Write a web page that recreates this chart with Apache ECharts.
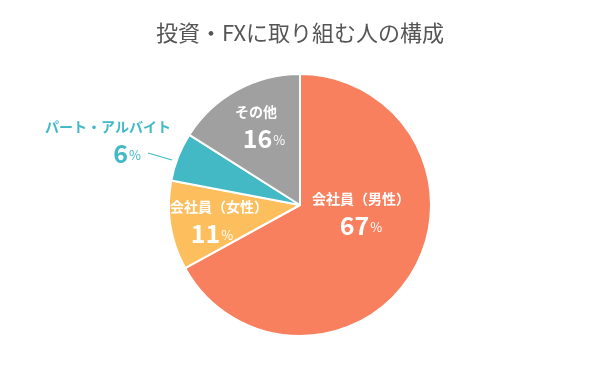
<!DOCTYPE html>
<html>
<head>
<meta charset="utf-8">
<script src="https://cdn.jsdelivr.net/npm/echarts@6/dist/echarts.min.js"></script>
<style>html,body{margin:0;padding:0;background:#fff;}#c{width:600px;height:371px;}</style>
</head>
<body>
<div id="c"></div>
<script>
const titleText = '投資・FXに取り組む人の構成';
const categories = ['会社員（男性）', '会社員（女性）', 'パート・アルバイト', 'その他'];
const values = [67, 11, 6, 16];
const colors = ['#F8805E', '#FDBE5E', '#42B9C5', '#A0A0A0'];
const labelColors = ['#ffffff', '#ffffff', '#42B9C5', '#ffffff'];
const labelCenters = [[361, 214], [219, 222], [108, 142], [256, 127]];
const numberShift = [0, -7, 19, 8];

const chart = echarts.init(document.getElementById('c'), null, {renderer: 'canvas'});
const fontFamily = '"Noto Sans CJK JP", "Noto Sans", sans-serif';
function makeRich(shift) {
  const left = shift > 0 ? shift * 2 : 0;
  const right = shift < 0 ? -shift * 2 : 0;
  return {
    n: {fontFamily: fontFamily, fontSize: 14, fontWeight: 'bold', lineHeight: 22},
    v: {fontFamily: fontFamily, fontSize: 25, fontWeight: 'bold', lineHeight: 30, padding: [0, 0, 0, left]},
    p: {fontFamily: fontFamily, fontSize: 13, fontWeight: 'normal', lineHeight: 26, padding: [4, right, 0, 1]}
  };
}
chart.setOption({
  animation: false,
  backgroundColor: '#fff',
  title: {
    text: titleText,
    left: 'center',
    top: 17,
    textStyle: {fontFamily: fontFamily, fontSize: 22, fontWeight: 'normal', color: '#555'}
  },
  graphic: [{
    type: 'line',
    shape: {x1: 148, y1: 153, x2: 172, y2: 160},
    style: {stroke: '#42B9C5', lineWidth: 1.2}
  }],
  series: [{
    type: 'pie',
    center: [300, 205],
    radius: 131,
    startAngle: 90,
    clockwise: true,
    itemStyle: {borderColor: '#fff', borderWidth: 2},
    labelLine: {show: false},
    label: {
      show: true,
      position: 'inside',
      formatter: '{n|{b}}\n{v|{c}}{p|%}',
      fontFamily: fontFamily,
      rich: makeRich(0)
    },
    labelLayout: function (params) {
      const c = labelCenters[params.dataIndex];
      return {x: c[0], y: c[1], align: 'center', verticalAlign: 'middle'};
    },
    data: categories.map((name, i) => ({
      name: name,
      value: values[i],
      itemStyle: {color: colors[i]},
      label: {color: labelColors[i], rich: makeRich(numberShift[i])}
    }))
  }]
});
</script>
</body>
</html>
